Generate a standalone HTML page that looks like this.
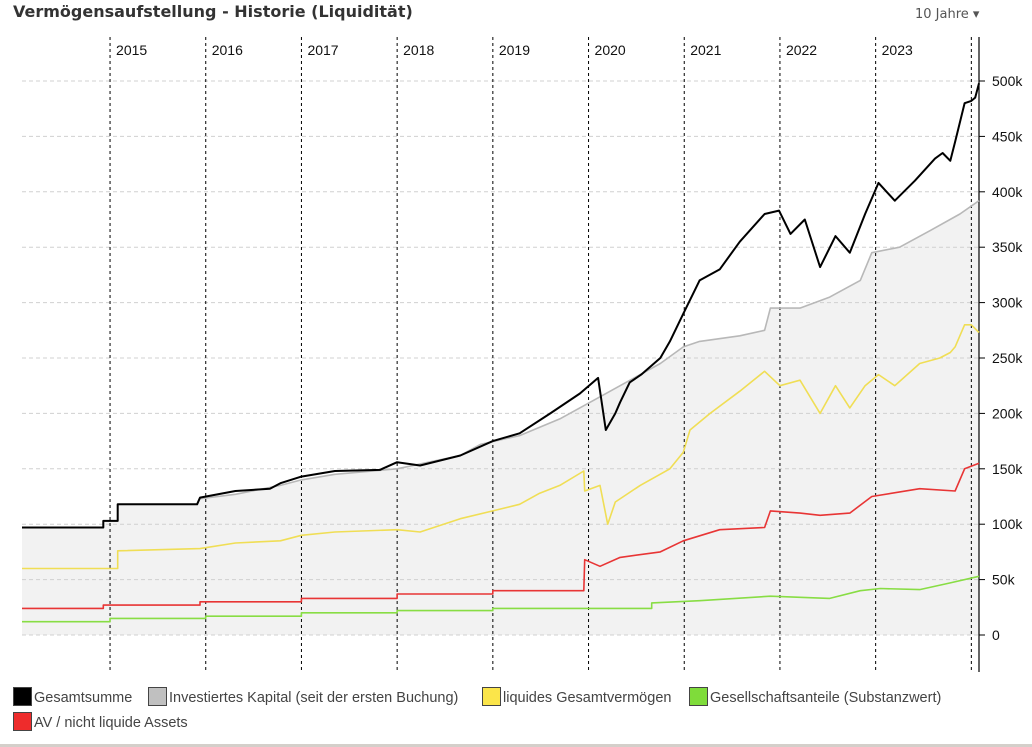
<!DOCTYPE html>
<html><head><meta charset="utf-8">
<style>
html,body{margin:0;padding:0;background:#fff;}
body{width:1032px;height:747px;position:relative;overflow:hidden;font-family:"Liberation Sans","DejaVu Sans",sans-serif;}
#title{position:absolute;left:13px;top:2px;font:bold 16px "DejaVu Sans","Liberation Sans",sans-serif;color:#333;}
#range{position:absolute;left:915px;top:7px;font:13px "DejaVu Sans","Liberation Sans",sans-serif;color:#555;cursor:pointer;}
#bottom{position:absolute;left:0;top:744px;width:1032px;height:3px;background:#d4cfca;}
svg{position:absolute;left:0;top:0;}
</style></head><body>
<div id="title">Vermögensaufstellung - Historie (Liquidität)</div>
<div id="range">10 Jahre ▾</div>
<svg id="chart" width="1032" height="747"></svg>
<div id="bottom"></div>
<script>
const yearTicks=[2015,2016,2017,2018,2019,2020,2021,2022,2023,2024];
const yearLabels=["2015","2016","2017","2018","2019","2020","2021","2022","2023",""];
const valueTicks=[0,50,100,150,200,250,300,350,400,450,500];
const valueLabels=["0","50k","100k","150k","200k","250k","300k","350k","400k","450k","500k"];
const totT=[2014.08,2014.93,2014.93,2015.08,2015.08,2015.91,2015.94,2016.31,2016.67,2016.78,2017.0,2017.35,2017.82,2018.0,2018.24,2018.66,2019.0,2019.28,2019.6,2019.91,2020.1,2020.18,2020.28,2020.33,2020.43,2020.55,2020.75,2020.85,2020.99,2021.16,2021.37,2021.58,2021.84,2021.99,2022.11,2022.26,2022.42,2022.58,2022.73,2022.89,2023.03,2023.2,2023.41,2023.62,2023.7,2023.78,2023.83,2023.93,2024.0,2024.04,2024.08];
const totV=[97,97,103,103,118,118,124,130,132,137,143,148,149,156,153,162,175,182,200,218,232,185,200,210,228,235,250,265,290,320,330,355,380,383,362,375,332,360,345,380,408,392,410,430,435,428,445,480,482,485,498];
const invT=[2014.08,2014.93,2014.93,2015.08,2015.08,2015.91,2015.94,2016.31,2016.78,2017.0,2017.35,2018.0,2018.66,2018.87,2019.28,2019.7,2020.12,2020.33,2020.75,2020.99,2021.16,2021.58,2021.84,2021.9,2022.21,2022.52,2022.84,2022.96,2023.25,2023.57,2023.88,2024.08];
const invV=[97,97,103,103,118,118,123,127,135,140,145,150,162,172,180,195,215,225,245,260,265,270,275,295,295,305,320,345,350,365,380,392];
const liqT=[2014.08,2015.08,2015.08,2015.94,2016.31,2016.78,2017.0,2017.35,2018.0,2018.24,2018.66,2019.0,2019.28,2019.49,2019.7,2019.95,2019.96,2020.12,2020.2,2020.28,2020.54,2020.85,2020.99,2021.06,2021.27,2021.58,2021.84,2022.0,2022.21,2022.42,2022.58,2022.73,2022.89,2023.03,2023.2,2023.46,2023.67,2023.78,2023.83,2023.93,2024.0,2024.08];
const liqV=[60,60,76,78,83,85,90,93,95,93,105,112,118,128,135,148,130,135,100,120,135,150,165,185,200,220,238,225,230,200,225,205,225,235,225,245,250,255,260,280,280,273];
const avT=[2014.08,2014.93,2014.93,2015.94,2015.94,2017.0,2017.0,2018.0,2018.0,2019.0,2019.0,2019.95,2019.96,2020.12,2020.33,2020.75,2020.99,2021.37,2021.84,2021.9,2022.21,2022.42,2022.73,2022.96,2023.46,2023.83,2023.93,2024.08];
const avV=[24,24,27,27,30,30,33,33,37,37,40,40,68,62,70,75,85,95,97,112,110,108,110,125,132,130,150,155];
const gesT=[2014.08,2015.0,2015.0,2016.0,2016.0,2017.0,2017.0,2018.0,2018.0,2019.0,2019.0,2020.66,2020.66,2021.16,2021.9,2022.52,2022.84,2023.05,2023.46,2023.78,2024.08];
const gesV=[12,12,15,15,17,17,20,20,22,22,24,24,29,31,35,33,40,42,41,47,53];

const NS="http://www.w3.org/2000/svg";
const svg=document.getElementById('chart');
const X=t=>22+(t-2014.08)*95.7;
const Y=v=>635-v*1.108;
const FONT='Liberation Sans, DejaVu Sans, sans-serif';
function mk(tag,attrs){const e=document.createElementNS(NS,tag);for(const k in attrs)e.setAttribute(k,attrs[k]);svg.appendChild(e);return e;}
function pts(T,V){return T.map((t,i)=>X(t).toFixed(1)+','+Y(V[i]).toFixed(1)).join(' ');}

let fp=pts(invT,invV)+' '+X(invT[invT.length-1])+','+Y(0)+' '+X(invT[0])+','+Y(0);
let fill=mk('polygon',{points:fp,fill:'#f2f2f2'});



valueTicks.forEach((v,i)=>{
  let g=mk('line',{x1:22,x2:979,y1:Y(v),y2:Y(v),stroke:'#d0d0d0','stroke-dasharray':'4,3','stroke-width':1});
  
  
  let tk=mk('line',{x1:979,x2:985,y1:Y(v),y2:Y(v),stroke:'#000'});
  
  
  let tx=mk('text',{x:992,y:Y(v)+5,'font-size':14,fill:'#111','font-family':FONT});
  tx.textContent=valueLabels[i];
  
  
});
yearTicks.forEach((y,i)=>{
  let l=mk('line',{x1:X(y),x2:X(y),y1:37,y2:672,stroke:'#000','stroke-dasharray':'3,3','stroke-width':1});
  
  
  if(yearLabels[i]){
    let tx=mk('text',{x:X(y)+6,y:55,'font-size':14,fill:'#111','font-family':FONT});
    tx.textContent=yearLabels[i];
    
    
  }
});
let ax=mk('line',{x1:979,x2:979,y1:37,y2:672,stroke:'#000','stroke-width':1.2});



const series=[[gesT,gesV,'#88dd44','gesellschaftsanteile-line',1.6],[avT,avV,'#e83535','av-nicht-liquide-line',1.6],[liqT,liqV,'#f0de55','liquides-line',1.6],[invT,invV,'#b8b8b8','investiertes-kapital-line',1.6],[totT,totV,'#000','gesamtsumme-line',2]];
series.forEach(s=>{
  let p=mk('polyline',{points:pts(s[0],s[1]),fill:'none',stroke:s[2],'stroke-width':s[4],'stroke-linejoin':'round'});
  
  
});

const legend=[[13,687,'#000','Gesamtsumme'],[148,687,'#c0c0c0','Investiertes Kapital (seit der ersten Buchung)'],[482,687,'#fbe54a','liquides Gesamtvermögen'],[689,687,'#7fdc3a','Gesellschaftsanteile (Substanzwert)'],[13,712,'#ee2c2c','AV / nicht liquide Assets']];
legend.forEach(l=>{
  let r=mk('rect',{x:l[0]+0.5,y:l[1]+0.5,width:18,height:18,fill:l[2],stroke:'#444'});
  
  
  let t=mk('text',{x:l[0]+21,y:l[1]+15,'font-size':14.5,fill:'#444','font-family':FONT});
  t.textContent=l[3];
  
  
});
</script>
</body></html>
